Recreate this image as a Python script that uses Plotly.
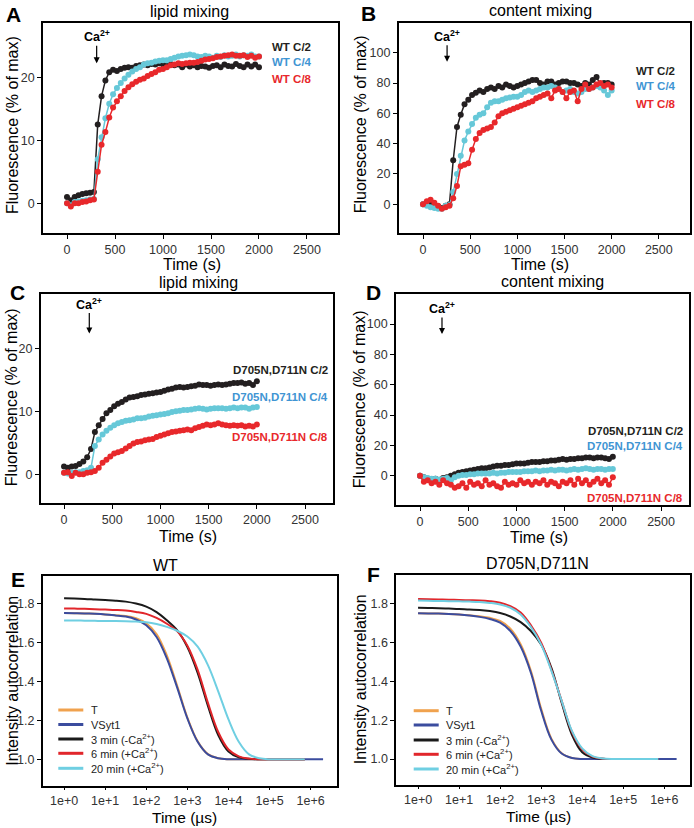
import plotly.graph_objects as go

W, H = 694, 828
FONT = "Arial, 'Liberation Sans', Helvetica, sans-serif"

# ---------------- data: fusion assays (time in s) ----------------
T = [0, 40, 80, 120, 160, 200, 240, 280, 320, 360, 400, 440, 480, 520, 560, 600, 640, 680,
     720, 760, 800, 840, 880, 920, 960, 1000, 1040, 1080, 1120, 1160, 1200, 1240, 1280, 1320,
     1360, 1400, 1440, 1480, 1520, 1560, 1600, 1640, 1680, 1720, 1760, 1800, 1840, 1880, 1920,
     1960, 2000]

A_c2 = [1.0, 0.5, 1.0, 1.3, 1.5, 1.6, 1.7, 1.8, 12.5, 17, 19.5, 20.8, 21.2, 21.0, 21.3, 21.5, 21.6,
        21.5, 21.8, 21.9, 22.0, 21.9, 22.1, 22.0, 22.2, 22.0, 21.8, 22.1, 21.9, 22.0, 21.6, 22.0,
        21.7, 21.9, 21.6, 21.8, 21.7, 21.5, 21.8, 21.9, 21.6, 22.0, 21.8, 21.7, 22.1, 21.8, 21.6,
        22.0, 21.7, 22.0, 21.6]
A_c4 = [0, -0.3, 0.2, 0.3, 0.4, 0.5, 0.6, 0.7, 7, 10.5, 13.5, 15.8, 17.3, 18.3, 19.1, 19.8, 20.4,
        20.9, 21.3, 21.6, 22.0, 22.2, 22.3, 22.5, 22.6, 22.7, 22.7, 22.9, 23.1, 23.3, 23.4, 23.5,
        23.6, 23.5, 23.3, 23.2, 23.4, 23.3, 23.1, 23.4, 23.2, 23.5, 23.3, 23.4, 23.6, 23.3, 23.5,
        23.4, 23.6, 23.3, 23.3]
A_c8 = [0, -0.5, 0, 0, 0.2, 0.3, 0.5, 0.6, 5, 9.3, 11.3, 13.6, 15.2, 16.2, 17, 17.8, 18.4, 18.9,
        19.3, 19.6, 19.8, 20.2, 20.5, 20.8, 21.2, 21.3, 21.6, 21.9, 22, 22.2, 22.1, 22.2, 22.3,
        22.3, 22.4, 22.6, 22.8, 22.9, 23.0, 23.2, 23.3, 23.4, 23.5, 23.6, 23.4, 23.4, 23.5, 23.2,
        23.4, 23.1, 23.3]

B_c2 = [0, 1, 0, -1, -1.5, -2.5, -1, 0, 29, 51, 59, 66, 69, 72, 73.5, 75, 74, 76, 77, 76, 78, 77,
        79, 78, 77, 78, 79, 80, 81, 82, 82, 80, 79, 81, 81, 79, 80, 81, 81, 80, 80, 79, 78, 80, 79,
        82, 84, 79, 80, 80, 79]
B_c4 = [0, -1, -2, -2.5, -3, -3, -1, -0.5, 8, 20, 32, 42, 48, 53, 57, 59, 60, 64, 67, 68, 68, 69,
        70, 70.5, 71, 71, 72, 74, 75, 74, 75, 76, 77, 77, 78, 77, 76, 74, 75, 76, 74, 73, 74, 76,
        76, 77, 78, 77, 75, 72, 75]
B_c8 = [0, 2, 3, 1, -1, -3, -2, -1, 4, 12, 25, 26, 27, 36, 43, 47, 49, 50, 51, 54, 58, 60, 61, 62,
        63, 64, 65, 66, 67, 68, 70, 71, 72, 73, 70, 75, 76, 74, 70, 74, 75, 68, 76, 79, 76, 77, 79,
        80, 78, 79, 77]

C_c2 = [1.2, 1.0, 1.2, 1.3, 1.6, 2.0, 2.7, 4.0, 6.7, 7.8, 8.8, 9.7, 10.2, 10.8, 11.2, 11.5, 11.9,
        12.2, 12.3, 12.4, 12.6, 12.7, 12.8, 12.9, 13.0, 13.1, 13.3, 13.5, 13.6, 13.8, 13.9, 13.8,
        13.9, 14.0, 14.1, 14.3, 14.2, 14.2, 14.1, 14.2, 14.3, 14.2, 14.3, 14.4, 14.5, 14.5, 14.6,
        14.4, 14.5, 14.2, 14.8]
C_c4 = [0.2, 0.1, 0.2, 0.3, 0.3, 0.5, 0.6, 1.0, 4.5, 5.5, 6.3, 6.9, 7.4, 7.8, 8.1, 8.3, 8.5, 8.6,
        8.7, 8.9, 8.9, 9.0, 9.2, 9.3, 9.4, 9.5, 9.6, 9.7, 9.9, 10.0, 10.1, 10.2, 10.2, 10.3, 10.4,
        10.5, 10.4, 10.3, 10.4, 10.5, 10.5, 10.5, 10.4, 10.5, 10.6, 10.5, 10.6, 10.6, 10.4, 10.6,
        10.7]
C_c8 = [0.2, 0.3, -0.3, 0.2, 0, 0, 0.2, 0.3, 0.5, 1.0, 1.8, 2.3, 2.8, 3.3, 3.5, 3.7, 4.1, 4.5,
        4.9, 5.1, 5.2, 5.4, 5.5, 5.6, 5.9, 6.1, 6.3, 6.5, 6.7, 6.8, 6.9, 7.0, 7.1, 7.0, 7.3, 7.5,
        7.7, 7.9, 7.8, 7.9, 8.1, 7.9, 7.8, 7.7, 7.8, 7.7, 7.8, 7.6, 7.7, 7.6, 7.9]

D_c2 = [0, -1, -2, -2.5, -2, -3, -1.5, -1, 0, 1, 2, 2.5, 3, 3.5, 4, 4.5, 5, 5, 5.5, 6, 6.5, 6.5, 7,
        7, 7.5, 8, 8, 8, 8.5, 9, 9, 9, 9.5, 9.5, 10, 10, 10.5, 11, 10.5, 11, 11, 11.5, 11.5, 12, 12,
        11.5, 12, 12, 11.5, 11, 12.5]
D_c4 = [0, -1, -1.5, -2, -2, -2.5, -2, -1.5, -3, -1, 0, 0.5, 0.5, 1, 1, 1.5, 1.5, 1.5, 1.5, 2, 1.5,
        2, 2, 2.5, 2.5, 2.5, 2.5, 3, 3, 3, 3.5, 3, 3.5, 3.5, 4, 3.5, 4, 4, 3.5, 4, 4.5, 4, 4.5, 5,
        4.5, 4, 4.5, 4.5, 4, 4.5, 4.5]
D_c8 = [0, -4, -3, -5, -4, -6, -3, -5, -6, -8, -7, -5, -8, -4, -6, -5, -7, -3, -6, -5, -7, -8, -4,
        -6, -5, -6, -3, -5, -4, -6, -4, -5, -3, -6, -4, -5, -7, -4, -5, -3, -6, -2, -5, -3, -6, -4,
        -2, -5, -3, -6, -1]

# ---------------- data: autocorrelation (time in microseconds) ----------------
TAU = [1, 1.778, 3.162, 5.623, 10, 17.78, 31.62, 56.23, 100, 177.8, 316.2, 562.3, 1000, 1778,
       3162, 5623, 10000, 17780, 31620, 56230, 100000, 177800, 316200, 562300, 720000]
TAU_LONG = TAU + [2000000]

E_T = [1.753, 1.752, 1.751, 1.749, 1.746, 1.742, 1.738, 1.726, 1.70, 1.645, 1.535, 1.38, 1.215,
       1.092, 1.026, 1.005, 1.0, 1.0, 1.0, 1.0, 1.0, 1.0, 1.0, 1.0, 1.0]
E_V = [1.753, 1.752, 1.751, 1.749, 1.746, 1.741, 1.735, 1.72, 1.69, 1.63, 1.52, 1.37, 1.21, 1.09,
       1.025, 1.005, 1.0, 1.0, 1.0, 1.0, 1.0, 1.0, 1.0, 1.0, 1.0, 1.0]
E_3 = [1.830, 1.828, 1.826, 1.823, 1.820, 1.817, 1.812, 1.802, 1.786, 1.758, 1.716, 1.665, 1.578,
       1.445, 1.275, 1.125, 1.04, 1.01, 1.002, 1.0, 1.0, 1.0, 1.0, 1.0, 1.0]
E_6 = [1.777, 1.776, 1.775, 1.773, 1.771, 1.769, 1.766, 1.759, 1.749, 1.728, 1.698, 1.66, 1.585,
       1.46, 1.29, 1.14, 1.05, 1.015, 1.003, 1.0, 1.0, 1.0, 1.0, 1.0, 1.0]
E_20 = [1.715, 1.715, 1.714, 1.713, 1.712, 1.712, 1.711, 1.709, 1.706, 1.697, 1.682, 1.662, 1.632,
        1.58, 1.485, 1.35, 1.205, 1.09, 1.025, 1.005, 1.0, 1.0, 1.0, 1.0, 1.0]

F_T = [1.752, 1.751, 1.750, 1.748, 1.745, 1.741, 1.736, 1.728, 1.712, 1.672, 1.592, 1.455, 1.26,
       1.105, 1.03, 1.006, 1.0, 1.0, 1.0, 1.0, 1.0, 1.0, 1.0, 1.0, 1.0]
F_V = [1.752, 1.751, 1.750, 1.748, 1.745, 1.740, 1.733, 1.722, 1.703, 1.66, 1.58, 1.445, 1.25,
       1.10, 1.028, 1.005, 1.0, 1.0, 1.0, 1.0, 1.0, 1.0, 1.0, 1.0, 1.0, 1.0]
F_3 = [1.780, 1.779, 1.778, 1.776, 1.774, 1.771, 1.769, 1.763, 1.753, 1.735, 1.706, 1.66, 1.59,
       1.47, 1.29, 1.125, 1.035, 1.008, 1.001, 1.0, 1.0, 1.0, 1.0, 1.0, 1.0]
F_6 = [1.825, 1.824, 1.823, 1.822, 1.820, 1.819, 1.818, 1.814, 1.806, 1.788, 1.756, 1.69, 1.60,
       1.46, 1.30, 1.14, 1.05, 1.012, 1.002, 1.0, 1.0, 1.0, 1.0, 1.0, 1.0]
F_20 = [1.817, 1.816, 1.815, 1.814, 1.813, 1.812, 1.810, 1.805, 1.797, 1.78, 1.745, 1.68, 1.59,
        1.455, 1.30, 1.145, 1.055, 1.015, 1.003, 1.0, 1.0, 1.0, 1.0, 1.0, 1.0]

X_TICKS = [0, 500, 1000, 1500, 2000, 2500]
TAU_TICKS = [1, 10, 100, 1000, 10000, 100000, 1000000]
TAU_TICKTEXT = ["1e+0", "1e+1", "1e+2", "1e+3", "1e+4", "1e+5", "1e+6"]
LEGEND_NAMES = ["T", "VSyt1", "3 min (-Ca<sup>2+</sup>)", "6 min (+Ca<sup>2+</sup>)",
                "20 min (+Ca<sup>2+</sup>)"]

# ---------------- styling ----------------
K = "#231f20"
CY = "#66c8d8"
RD = "#e8282b"
LBLUE = "#3f95d3"
C_ORANGE = "#f0a24e"
C_NAVY = "#3b4c9e"
C_BLACK = "#1a1a1a"
C_RED = "#e1262b"
C_CYAN = "#6fcfe2"


def px(x):
    return x / W


def py(y):
    return 1 - y / H


fig = go.Figure()

panels = [
    dict(dx=(43, 338), dy=(23, 233), xr=[-250, 2823], yr=[-4.7, 28.6], yt=[0, 10, 20],
         series=[(A_c2, K), (A_c4, CY), (A_c8, RD)]),
    dict(dx=(398.7, 690), dy=(23, 233), xr=[-258, 2831], yr=[-19, 119.6], yt=[0, 20, 40, 60, 80, 100],
         series=[(B_c2, K), (B_c4, CY), (B_c8, RD)]),
    dict(dx=(40.7, 333), dy=(294, 503), xr=[-242, 2790], yr=[-4.6, 28.7], yt=[0, 10, 20],
         series=[(C_c2, K), (C_c4, CY), (C_c8, RD)]),
    dict(dx=(396, 689), dy=(294, 505), xr=[-249, 2790], yr=[-19.3, 119.8], yt=[0, 20, 40, 60, 80, 100],
         series=[(D_c2, K), (D_c4, CY), (D_c8, RD)]),
    dict(dx=(42.7, 337), dy=(576, 786), xr=[-0.52, 6.64], yr=[0.862, 1.944], log=True,
         series=[(TAU, E_T, C_ORANGE), (TAU_LONG, E_V, C_NAVY), (TAU, E_3, C_BLACK),
                 (TAU, E_6, C_RED), (TAU, E_20, C_CYAN)]),
    dict(dx=(396.3, 689.7), dy=(575, 785), xr=[-0.53, 6.62], yr=[0.866, 1.949], log=True,
         series=[(TAU, F_T, C_ORANGE), (TAU_LONG, F_V, C_NAVY), (TAU, F_3, C_BLACK),
                 (TAU, F_6, C_RED), (TAU, F_20, C_CYAN)]),
]

axis_common = dict(showline=True, linecolor="black", linewidth=1.7, mirror=True,
                   ticks="outside", ticklen=4, tickwidth=1.1, tickcolor="black",
                   showgrid=False, zeroline=False,
                   tickfont=dict(family=FONT, size=12.5, color="#333333"))

layout = {}
for i, p in enumerate(panels, start=1):
    xa = dict(axis_common, domain=[px(p["dx"][0]), px(p["dx"][1])], anchor=f"y{i}")
    ya = dict(axis_common, domain=[py(p["dy"][1]), py(p["dy"][0])], anchor=f"x{i}",
              range=p["yr"])
    if p.get("log"):
        xa.update(type="log", range=p["xr"], tickvals=TAU_TICKS, ticktext=TAU_TICKTEXT,
                  ticklen=2)
        ya.update(tickvals=[1.0, 1.2, 1.4, 1.6, 1.8], tickformat=".1f")
        for xs, ys, col in p["series"]:
            fig.add_trace(go.Scatter(x=xs, y=ys, mode="lines", line=dict(color=col, width=2,
                          shape="spline"), xaxis=f"x{i}", yaxis=f"y{i}", showlegend=False,
                          hoverinfo="skip"))
    else:
        xa.update(range=p["xr"], tickvals=X_TICKS)
        ya.update(tickvals=p["yt"])
        for ys, col in p["series"]:
            fig.add_trace(go.Scatter(x=T, y=ys, mode="lines+markers",
                          line=dict(color=col, width=1.5), marker=dict(color=col, size=6),
                          xaxis=f"x{i}", yaxis=f"y{i}", showlegend=False))
    layout[f"xaxis{i}"] = xa
    layout[f"yaxis{i}"] = ya

ann = []


def text(x, y, s, size, color="black", bold=False, angle=0, xanchor="center"):
    if bold:
        s = f"<b>{s}</b>"
    ann.append(dict(x=px(x), y=py(y), xref="paper", yref="paper", text=s, showarrow=False,
                    font=dict(family=FONT, size=size, color=color), textangle=angle,
                    xanchor=xanchor, yanchor="middle"))


# panel letters
for s, x, y in [("A", 13.3, 15), ("B", 368.3, 14), ("C", 17.5, 292), ("D", 373.7, 292),
                ("E", 17.5, 579), ("F", 373.7, 574)]:
    text(x, y, s, 21, bold=True)

# panel titles
for s, x, y in [("lipid mixing", 189, 12), ("content mixing", 540.3, 11),
                ("lipid mixing", 198, 283), ("content mixing", 552, 282),
                ("WT", 165, 565), ("D705N,D711N", 537.7, 563)]:
    text(x, y, s, 16)

# axis titles
for x, y in [(12, 125), (360.3, 124), (11.7, 397.5), (360.3, 399)]:
    text(x, y, "Fluorescence (% of max)", 16, angle=-90)
for x, y in [(11.7, 681), (360.3, 679)]:
    text(x, y, "Intensity autocorrelation", 16, angle=-90)
for x, y in [(191.7, 264), (540, 264), (188.3, 536), (538.7, 537)]:
    text(x, y, "Time (s)", 16)
for x, y in [(184, 817), (538.7, 816)]:
    text(x, y, "Time (\u00b5s)", 15.5)

# series labels
text(270, 47, "WT C/2", 11.5, K, True, xanchor="left")
text(270, 62, "WT C/4", 11.5, LBLUE, True, xanchor="left")
text(270, 79, "WT C/8", 11.5, RD, True, xanchor="left")
text(633.7, 70.7, "WT C/2", 11.5, K, True, xanchor="left")
text(633.7, 86, "WT C/4", 11.5, LBLUE, True, xanchor="left")
text(633.7, 104, "WT C/8", 11.5, RD, True, xanchor="left")
text(330, 370, "D705N,D711N C/2", 11.5, K, True, xanchor="right")
text(330, 397, "D705N,D711N C/4", 11.5, LBLUE, True, xanchor="right")
text(330, 436.7, "D705N,D711N C/8", 11.5, RD, True, xanchor="right")
text(685.3, 431, "D705N,D711N C/2", 11.5, K, True, xanchor="right")
text(685.3, 445.7, "D705N,D711N C/4", 11.5, LBLUE, True, xanchor="right")
text(685.3, 497.7, "D705N,D711N C/8", 11.5, RD, True, xanchor="right")

# Ca2+ arrows (text at the arrow's tail)
for i, (xt, yt, dy) in enumerate([(309, 22.2, 27), (255, 94.1, 26), (262, 22.4, 30),
                                  (228, 93.4, 26)], start=1):
    ann.append(dict(x=xt, y=yt, xref=f"x{i}", yref=f"y{i}", text="<b>Ca<sup>2+</sup></b>",
                    showarrow=True, ax=0, ay=-dy, arrowhead=2, arrowsize=1, arrowwidth=1.2,
                    arrowcolor="black", font=dict(family=FONT, size=12.5, color="black")))

# manual legends for E and F
shapes = []
leg_cols = [C_ORANGE, C_NAVY, C_BLACK, C_RED, C_CYAN]
for (x0, x1, xtxt, ys) in [(58.3, 83.3, 89, [710, 724.5, 739, 753.3, 768.3]),
                           (413.7, 438.7, 443.7, [710.7, 725, 740, 754.3, 769])]:
    for name, col, y in zip(LEGEND_NAMES, leg_cols, ys):
        shapes.append(dict(type="line", xref="paper", yref="paper", x0=px(x0), x1=px(x1),
                           y0=py(y), y1=py(y), line=dict(color=col, width=3)))
        text(xtxt, y, name, 11, color="#222222", xanchor="left")

fig.update_layout(width=W, height=H, margin=dict(l=0, r=0, t=0, b=0),
                  paper_bgcolor="white", plot_bgcolor="white", showlegend=False,
                  font=dict(family=FONT), annotations=ann, shapes=shapes, **layout)

fig.write_html("out.html", config={"displayModeBar": False},
               post_script="document.body.style.margin='0px';")
